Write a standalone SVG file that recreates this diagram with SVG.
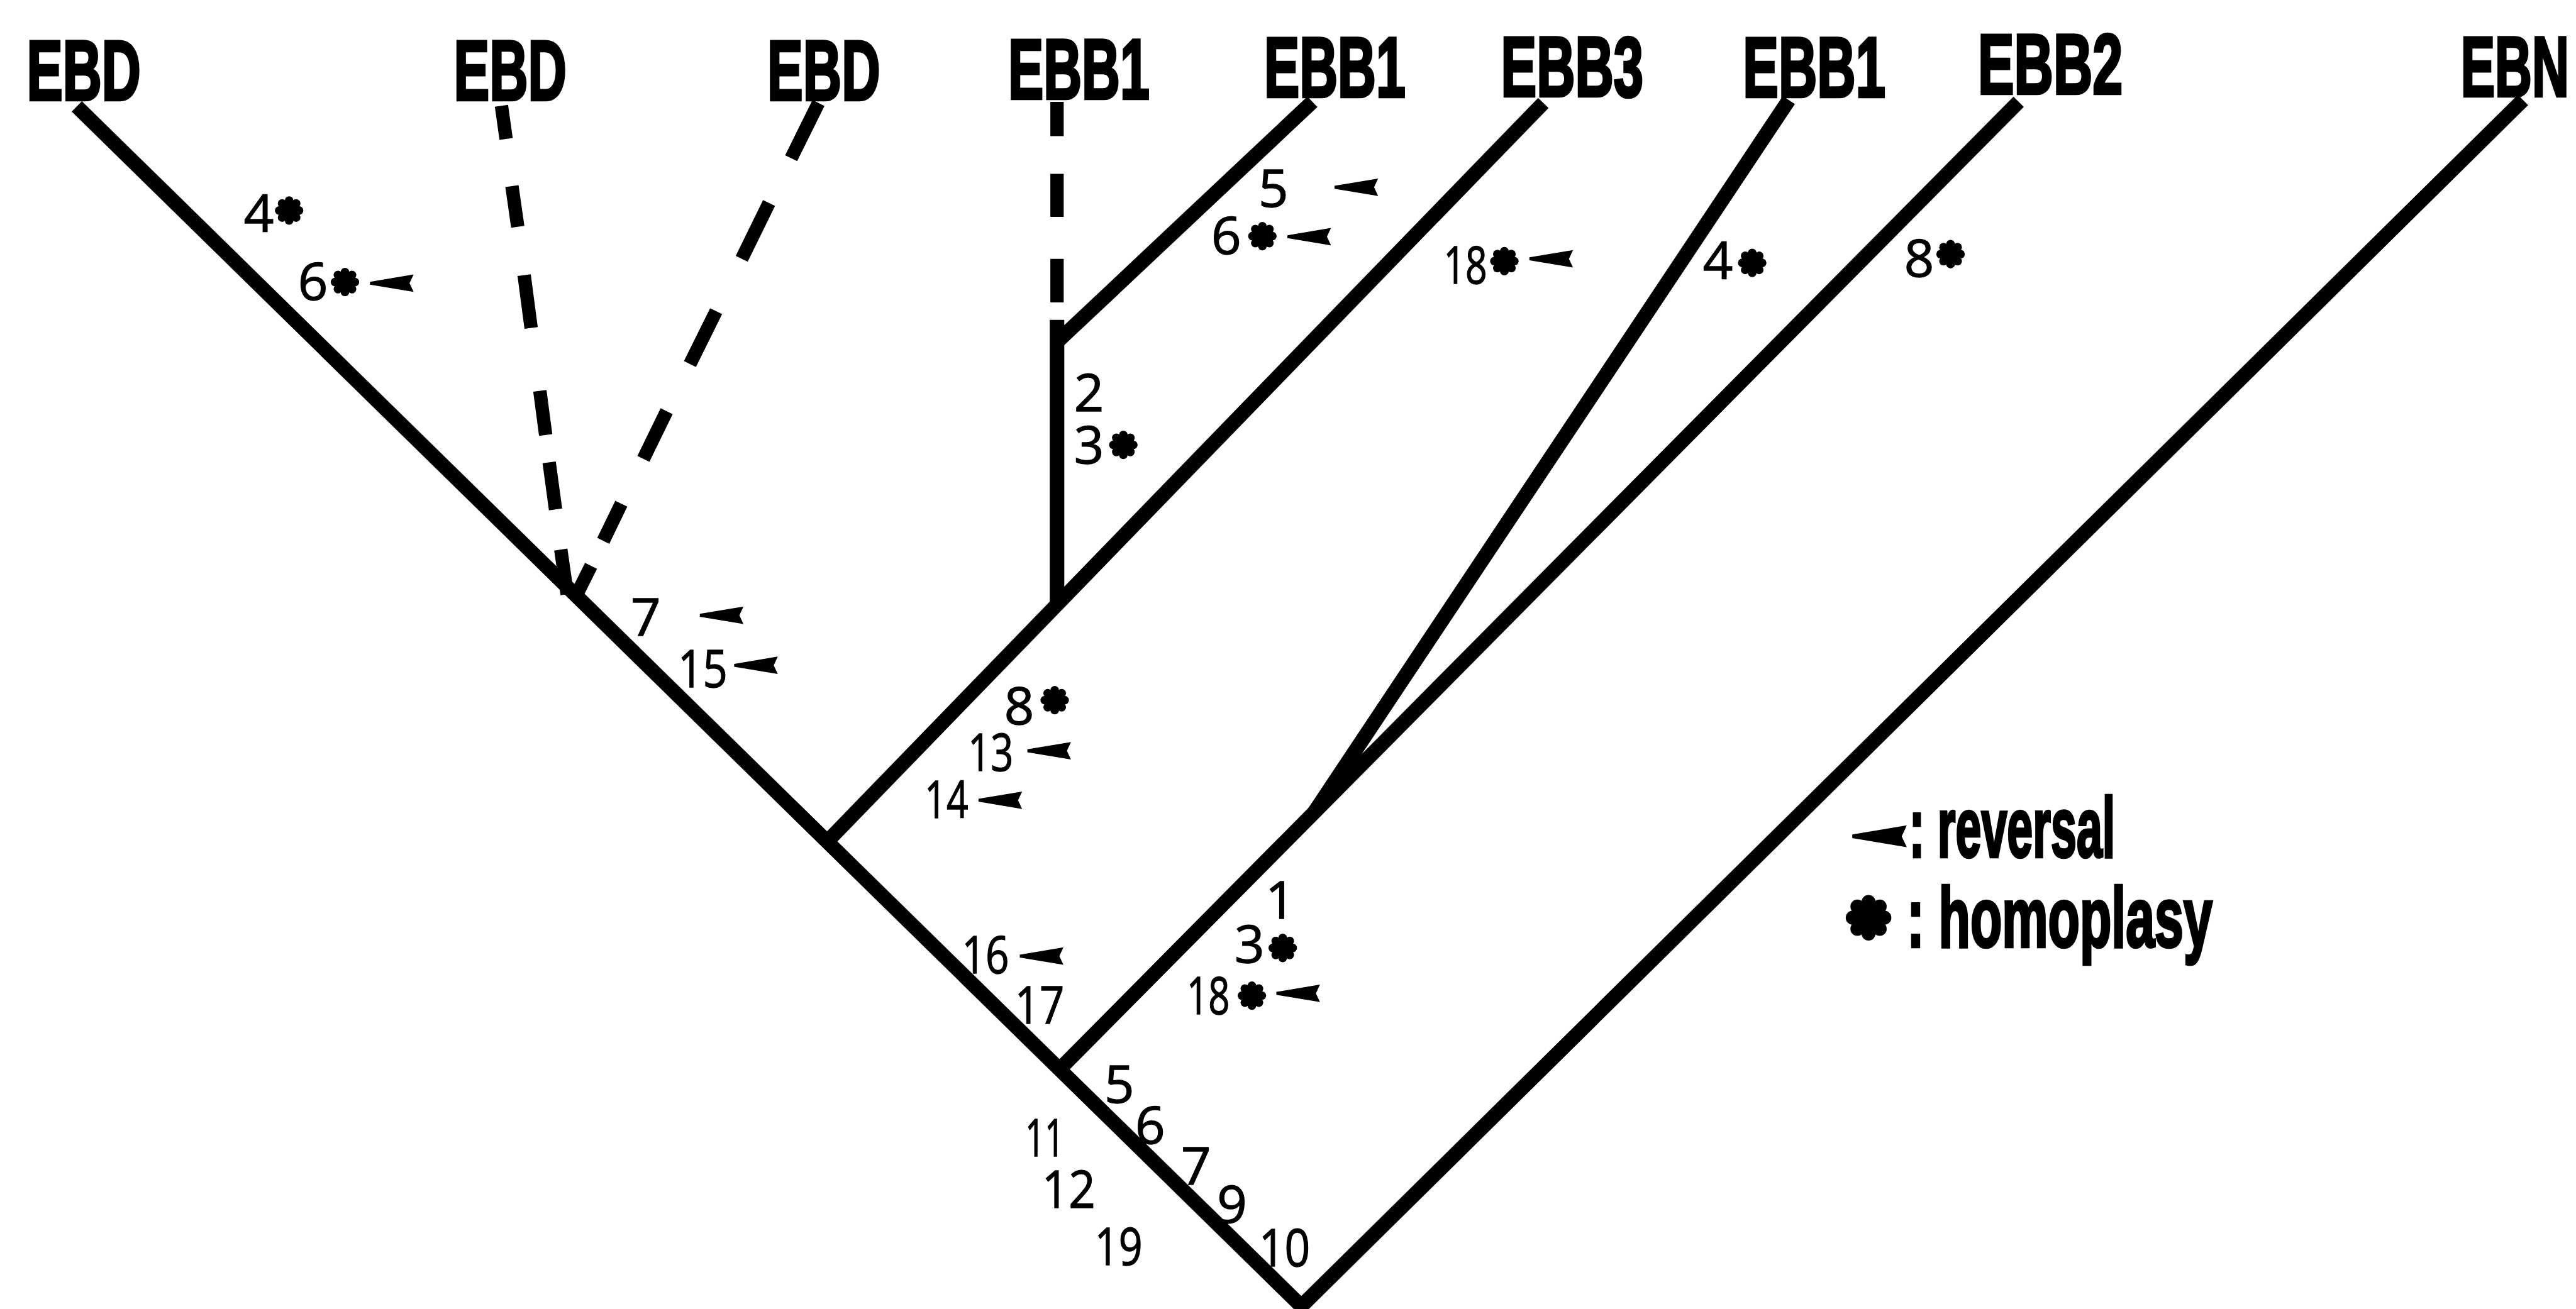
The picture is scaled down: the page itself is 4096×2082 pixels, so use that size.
<svg xmlns="http://www.w3.org/2000/svg" width="4096" height="2082" viewBox="0 0 4096 2082">
<defs>
<style>
.br{fill:none;stroke:#000;stroke-width:25;stroke-linejoin:miter;stroke-miterlimit:10}
.ds{fill:none;stroke:#000;stroke-width:23}
.tx{font-family:"Liberation Sans",Arial,sans-serif;font-weight:bold;font-size:147px;fill:#000;stroke:#000;stroke-width:5}
.nm{font-family:"Open Sans","DejaVu Sans",sans-serif;font-size:90px;fill:#000;stroke:#000;stroke-width:1.5;text-anchor:middle}
</style>
<g id="ast"><circle r="18"/><circle cx="17" cy="0" r="7.5"/><circle cx="12" cy="12" r="7.5"/><circle cx="0" cy="17" r="7.5"/><circle cx="-12" cy="12" r="7.5"/><circle cx="-17" cy="0" r="7.5"/><circle cx="-12" cy="-12" r="7.5"/><circle cx="0" cy="-17" r="7.5"/><circle cx="12" cy="-12" r="7.5"/></g>
<path id="rev" d="M0,-2.5 L75,-15 L68,0 L75,15 L0,2.5 Z"/>
</defs>
<rect width="4096" height="2082" fill="#fff"/>
<g transform="scale(0.925)">
<g id="connectors">
<path class="br" d="M132,183 L2237,2246 L4337,172"/>
<path class="br" d="M1422,1447 L2653,177"/>
<path class="br" d="M1817,550 L1817,1042"/>
<path class="br" d="M1817,588 L2256,175"/>
<path class="br" d="M1818,1842 L3470,175"/>
<path class="br" d="M2259,1397 L3075,172"/>
<path class="ds" d="M862,182 L870,239 M880,320 L890,390 M901,473 L913,564 M928,672 L938,748 M944,795 L955,876 M964,945 L975,1022"/>
<path class="ds" d="M1407,177 L1360,272 M1322,349 L1275,445 M1231,535 L1186,626 M1146,707 L1106,789 M1068,866 L1037,930 M1016,973 L990,1025"/>
<path class="ds" d="M1817,175 L1817,234 M1817,299 L1817,373 M1817,445 L1817,520"/>
</g>
<g id="taxon-EBD-1"><text class="tx" x="46" y="172" textLength="196" lengthAdjust="spacingAndGlyphs">EBD</text></g>
<g id="taxon-EBD-2"><text class="tx" x="780" y="172" textLength="194" lengthAdjust="spacingAndGlyphs">EBD</text></g>
<g id="taxon-EBD-3"><text class="tx" x="1319" y="172" textLength="194" lengthAdjust="spacingAndGlyphs">EBD</text></g>
<g id="taxon-EBB1-a"><text class="tx" x="1733" y="170" textLength="243" lengthAdjust="spacingAndGlyphs">EBB1</text></g>
<g id="taxon-EBB1-b"><text class="tx" x="2173" y="167" textLength="243" lengthAdjust="spacingAndGlyphs">EBB1</text></g>
<g id="taxon-EBB3"><text class="tx" x="2580" y="165" textLength="245" lengthAdjust="spacingAndGlyphs">EBB3</text></g>
<g id="taxon-EBB1-c"><text class="tx" x="2996" y="166" textLength="245" lengthAdjust="spacingAndGlyphs">EBB1</text></g>
<g id="taxon-EBB2"><text class="tx" x="3400" y="161" textLength="249" lengthAdjust="spacingAndGlyphs">EBB2</text></g>
<g id="taxon-EBN"><text class="tx" x="4230" y="165" textLength="186" lengthAdjust="spacingAndGlyphs">EBN</text></g>

<g id="chars-EBD-1">
<text class="nm" x="445" y="399">4</text><use href="#ast" x="497" y="362"/>
<text class="nm" x="538" y="516">6</text><use href="#ast" x="593" y="485"/><use href="#rev" x="636" y="487"/>
</g>
<g id="chars-EBB1-b">
<text class="nm" x="2189" y="356">5</text><use href="#rev" x="2294" y="322"/>
<text class="nm" x="2108" y="437">6</text><use href="#ast" x="2170" y="406"/><use href="#rev" x="2213" y="407"/>
</g>
<g id="chars-EBB3">
<text class="nm" x="2519" y="488" textLength="75" lengthAdjust="spacingAndGlyphs">18</text><use href="#ast" x="2586" y="449"/><use href="#rev" x="2629" y="445"/>
</g>
<g id="chars-EBB1-c"><text class="nm" x="2953" y="480">4</text><use href="#ast" x="3012" y="452"/></g>
<g id="chars-EBB2"><text class="nm" x="3299" y="476">8</text><use href="#ast" x="3353" y="437"/></g>
<g id="chars-EBB1-stem">
<text class="nm" x="1872" y="707">2</text>
<text class="nm" x="1872" y="797">3</text><use href="#ast" x="1931" y="765"/>
</g>
<g id="chars-EBD-clade">
<text class="nm" x="1110" y="1093">7</text><use href="#rev" x="1203" y="1058"/>
<text class="nm" x="1208" y="1182" textLength="85" lengthAdjust="spacingAndGlyphs">15</text><use href="#rev" x="1262" y="1144"/>
</g>
<g id="chars-EBB-clade">
<text class="nm" x="1752" y="1245">8</text><use href="#ast" x="1813" y="1204"/>
<text class="nm" x="1703" y="1325" textLength="78" lengthAdjust="spacingAndGlyphs">13</text><use href="#rev" x="1766" y="1291"/>
<text class="nm" x="1627" y="1406" textLength="75" lengthAdjust="spacingAndGlyphs">14</text><use href="#rev" x="1682" y="1376"/>
</g>
<g id="chars-EBB12-clade">
<text class="nm" x="2201" y="1579">1</text>
<text class="nm" x="2148" y="1655">3</text><use href="#ast" x="2205" y="1630"/>
<text class="nm" x="2077" y="1744" textLength="74" lengthAdjust="spacingAndGlyphs">18</text><use href="#ast" x="2152" y="1712"/><use href="#rev" x="2194" y="1708"/>
</g>
<g id="chars-ingroup">
<text class="nm" x="1694" y="1674" textLength="81" lengthAdjust="spacingAndGlyphs">16</text><use href="#rev" x="1753" y="1644"/>
<text class="nm" x="1787" y="1760" textLength="85" lengthAdjust="spacingAndGlyphs">17</text>
</g>
<g id="chars-root">
<text class="nm" x="1924" y="1896">5</text>
<text class="nm" x="1977" y="1966">6</text>
<text class="nm" x="2056" y="2037">7</text>
<text class="nm" x="2118" y="2103">9</text>
<text class="nm" x="2208" y="2177" textLength="88" lengthAdjust="spacingAndGlyphs">10</text>
<text class="nm" x="1796" y="1988" textLength="67" lengthAdjust="spacingAndGlyphs">11</text>
<text class="nm" x="1837" y="2077" textLength="92" lengthAdjust="spacingAndGlyphs">12</text>
<text class="nm" x="1923" y="2175" textLength="82" lengthAdjust="spacingAndGlyphs">19</text>
</g>
<g id="legend">
<use href="#rev" transform="translate(3184,1438) scale(1.25)"/>
<text class="tx" x="3282" y="1473" textLength="354" lengthAdjust="spacingAndGlyphs">: reversal</text>
<use href="#ast" transform="translate(3212,1578) scale(1.6)"/>
<text class="tx" x="3278" y="1628" textLength="525" lengthAdjust="spacingAndGlyphs">: homoplasy</text>
</g>
</g>
</svg>
